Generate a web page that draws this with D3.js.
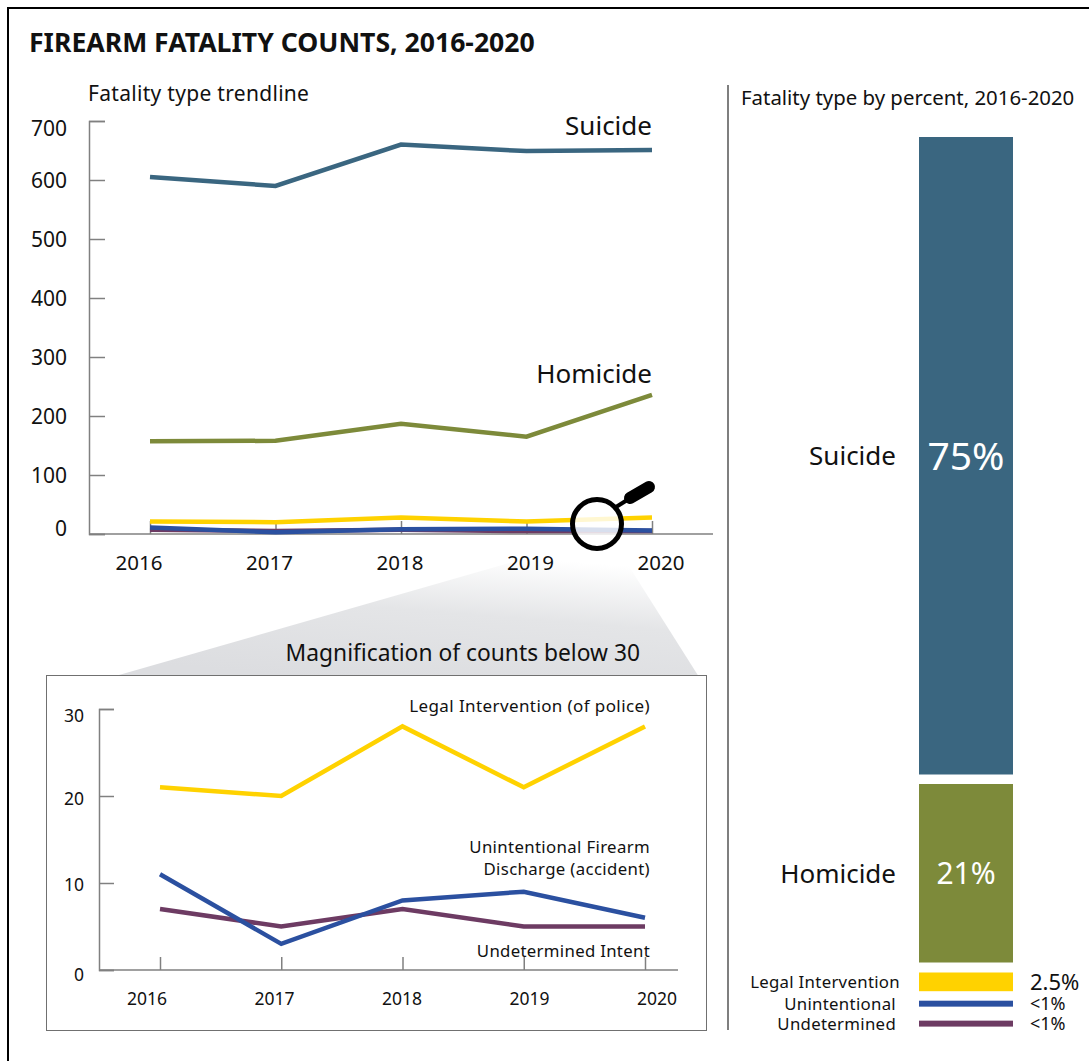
<!DOCTYPE html>
<html>
<head>
<meta charset="utf-8">
<script src="https://cdn.jsdelivr.net/npm/d3@7"></script>
<style>
	html, body { margin: 0; padding: 0; background: #fff; }
	svg { display: block; }
	text { font-family: "Noto Sans", sans-serif; fill: #111; }
</style>
</head>
<body>
<div id="chart"></div>
<script>
var years = [2016, 2017, 2018, 2019, 2020];

var suicide = [605, 590, 660, 649, 651];
var homicide = [157, 158, 187, 165, 236];
var legal = [21, 20, 28, 21, 28];
var unintentional = [11, 3, 8, 9, 6];
var undetermined = [7, 5, 7, 5, 5];

var mainTicks = [0, 100, 200, 300, 400, 500, 600, 700];
var insetTicks = [0, 10, 20, 30];

var barNames = ["Suicide", "Homicide", "Legal Intervention", "Unintentional", "Undetermined"];
var barShares = [75, 21, 2.2, 0.7, 0.7];
var barLabels = ["75%", "21%", "2.5%", "<1%", "<1%"];

var colors = {
	suicide: "#3a6680",
	homicide: "#7d8a3a",
	legal: "#ffd200",
	unintentional: "#2b50a0",
	undetermined: "#6d3b63"
};
var barColors = [colors.suicide, colors.homicide, colors.legal, colors.unintentional, colors.undetermined];

var svg = d3.select("#chart")
	.append("svg")
	.attr("width", 1089)
	.attr("height", 1061);

// page frame
svg.append("path")
	.attr("d", "M8,1061V8H1089")
	.attr("fill", "none")
	.attr("stroke", "#000")
	.attr("stroke-width", 2);

function label(x, y, str, size, anchor, color, weight, spacing) {
	return svg.append("text")
		.attr("x", x)
		.attr("y", y)
		.attr("text-anchor", anchor || "start")
		.attr("font-size", size)
		.attr("font-weight", weight || 400)
		.attr("letter-spacing", spacing || 0)
		.style("fill", color || "#111")
		.text(str);
}

function styleAxis(g) {
	g.selectAll("path, line").attr("stroke", "#808080").attr("stroke-width", 1.5);
}

function drawLines(x, y, series, width) {
	var line = d3.line()
		.x(function(d, i) { return x(years[i]); })
		.y(function(d) { return y(d); });

	series.forEach(function(s) {
		svg.append("path")
			.datum(s.values)
			.attr("d", line)
			.attr("fill", "none")
			.attr("stroke", s.color)
			.attr("stroke-width", width);
	});
}

label(29, 52, "FIREARM FATALITY COUNTS, 2016-2020", 26.6, "start", "#111", 700);

// gray wedge between the lens and the inset
var wedge = svg.append("defs").append("linearGradient")
	.attr("id", "wedge")
	.attr("x1", "35%").attr("y1", "100%")
	.attr("x2", "75%").attr("y2", "0%");
wedge.append("stop").attr("offset", "0").attr("stop-color", "#dcdde0");
wedge.append("stop").attr("offset", "0.55").attr("stop-color", "#e4e5e7");
wedge.append("stop").attr("offset", "1").attr("stop-color", "#ffffff");

svg.append("path")
	.attr("d", "M112,677L520,560L625,560L699,677Z")
	.attr("fill", "url(#wedge)");

/* main trendline */
label(88, 101, "Fatality type trendline", 21, "start", "#111", 400, 0.3);

var x = d3.scaleLinear().domain([2016, 2020]).range([150, 652]);
var y = d3.scaleLinear().domain([0, 700]).range([534, 121]);
var xLabel = d3.scaleLinear().domain([2016, 2020]).range([139, 661]);

var yAxis = svg.append("g")
	.attr("transform", "translate(89,0)")
	.call(d3.axisRight(y).tickValues(mainTicks).tickSize(16).tickFormat(""));
styleAxis(yAxis);

mainTicks.forEach(function(t) {
	// top and bottom labels sit inward of their ticks in the original
	var shift = t === 700 ? 7 : (t === 0 ? -6 : 0);
	label(67, y(t) + shift + 8, t, 21, "end");
});

var xTicks = svg.append("g")
	.attr("transform", "translate(0,534)")
	.call(d3.axisTop(x).tickValues(years).tickSize(13).tickFormat(""));
styleAxis(xTicks);
xTicks.select(".domain").remove();

svg.append("line")
	.attr("x1", 89).attr("x2", 713)
	.attr("y1", y(0)).attr("y2", y(0))
	.attr("stroke", "#808080")
	.attr("stroke-width", 1.5);

years.forEach(function(yr) {
	label(xLabel(yr), 570, yr, 20.5, "middle");
});

drawLines(x, y, [
	{ values: suicide, color: colors.suicide },
	{ values: homicide, color: colors.homicide },
	{ values: legal, color: colors.legal },
	{ values: undetermined, color: colors.undetermined },
	{ values: unintentional, color: colors.unintentional }
], 4.5);

label(652, 135, "Suicide", 26, "end");
label(652, 383, "Homicide", 26, "end");

// magnifier
svg.append("path")
	.attr("d", "M616,507L632,497")
	.attr("stroke", "#000")
	.attr("stroke-width", 4);
svg.append("path")
	.attr("d", "M630,498L649,487")
	.attr("stroke", "#000")
	.attr("stroke-width", 12)
	.attr("stroke-linecap", "round");
svg.append("circle")
	.attr("cx", 597)
	.attr("cy", 524)
	.attr("r", 24.5)
	.attr("fill", "#fff")
	.attr("fill-opacity", 0.82)
	.attr("stroke", "#000")
	.attr("stroke-width", 5);

/* magnified inset */
label(640, 661, "Magnification of counts below 30", 22.8, "end");

svg.append("rect")
	.attr("x", 46.5).attr("y", 675.5)
	.attr("width", 660).attr("height", 355)
	.attr("fill", "#fff")
	.attr("stroke", "#707070")
	.attr("stroke-width", 1);

var ix = d3.scaleLinear().domain([2016, 2020]).range([160, 645]);
var iy = d3.scaleLinear().domain([0, 30]).range([970, 709]);
var ixLabel = d3.scaleLinear().domain([2016, 2020]).range([147, 657]);

var iyAxis = svg.append("g")
	.attr("transform", "translate(99,0)")
	.call(d3.axisRight(iy).tickValues(insetTicks).tickSize(15).tickFormat(""));
styleAxis(iyAxis);

insetTicks.forEach(function(t) {
	var shift = t === 30 ? 7 : (t === 0 ? 5 : (t === 20 ? 3 : 2));
	label(84, iy(t) + shift + 6, t, 17.5, "end");
});

var ixTicks = svg.append("g")
	.attr("transform", "translate(0,970)")
	.call(d3.axisTop(ix).tickValues(years).tickSize(13).tickFormat(""));
styleAxis(ixTicks);
ixTicks.select(".domain").remove();

svg.append("line")
	.attr("x1", 99).attr("x2", 678)
	.attr("y1", iy(0)).attr("y2", iy(0))
	.attr("stroke", "#808080")
	.attr("stroke-width", 1.5);

years.forEach(function(yr) {
	label(ixLabel(yr), 1005, yr, 17.5, "middle");
});

drawLines(ix, iy, [
	{ values: legal, color: colors.legal },
	{ values: undetermined, color: colors.undetermined },
	{ values: unintentional, color: colors.unintentional }
], 4.5);

label(650, 712, "Legal Intervention (of police)", 17, "end", "#111", 400, 0.4);
label(650, 853, "Unintentional Firearm", 16.8, "end", "#111", 400, 0.35);
label(650, 875, "Discharge (accident)", 16.8, "end", "#111", 400, 0.35);
label(650, 957, "Undetermined Intent", 16.8, "end", "#111", 400, 0.3);

/* percent bar */
svg.append("line")
	.attr("x1", 728).attr("x2", 728)
	.attr("y1", 85).attr("y2", 1030)
	.attr("stroke", "#555")
	.attr("stroke-width", 1.5);

label(741, 105, "Fatality type by percent, 2016-2020", 20.4);

var h = d3.scaleLinear().domain([0, 100]).range([0, 850]);
var barGaps = [0, 9.5, 10, 9.5, 14];
var nameSizes = [26, 26, 16.8, 16.8, 16.8];
var valueSizes = [39, 30, 22, 18, 18];
var barTop = 137;

barShares.forEach(function(v, i) {
	barTop += barGaps[i];
	var bh = h(v);

	svg.append("rect")
		.attr("x", 919)
		.attr("y", barTop)
		.attr("width", 94)
		.attr("height", bh)
		.attr("fill", barColors[i]);

	var mid = barTop + bh / 2;
	label(i === 2 ? 900 : 896, mid + nameSizes[i] * 0.36, barNames[i], nameSizes[i], "end", "#111", 400, i < 2 ? 0 : 0.3);

	if (i < 2) {
		label(966, mid + valueSizes[i] * 0.36, barLabels[i], valueSizes[i], "middle", "#fff");
	} else {
		label(1030, mid + valueSizes[i] * 0.36, barLabels[i], valueSizes[i], "start");
	}

	barTop += bh;
});
</script>
</body>
</html>
